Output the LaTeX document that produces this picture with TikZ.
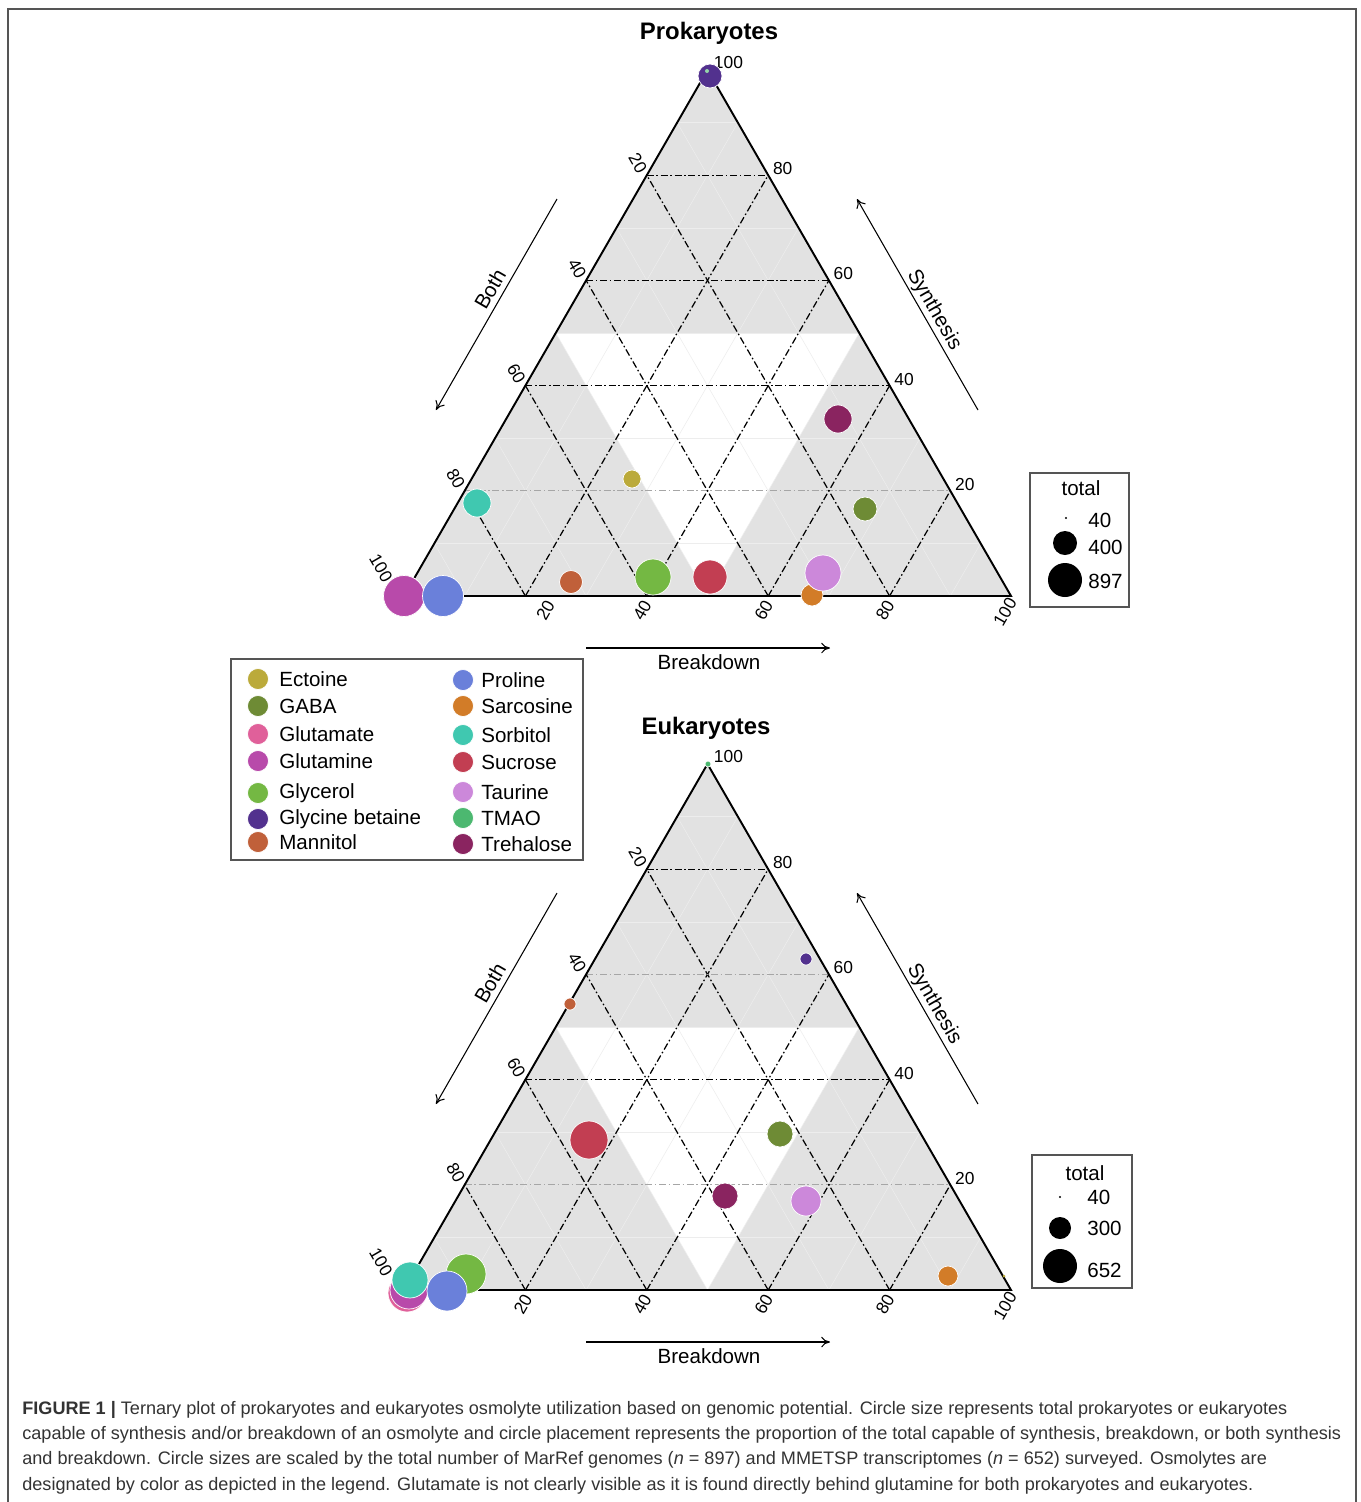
\documentclass[tikz,border=0pt]{standalone}
\usepackage{fontspec}
\setmainfont{Liberation Sans}
\usetikzlibrary{arrows.meta,calc}

\definecolor{ectoine}{HTML}{BBAA3A}
\definecolor{gaba}{HTML}{6E8B35}
\definecolor{glutamate}{HTML}{E0609A}
\definecolor{glutamine}{HTML}{B84AAA}
\definecolor{glycerol}{HTML}{74B843}
\definecolor{glybet}{HTML}{52318E}
\definecolor{mannitol}{HTML}{C0603A}
\definecolor{proline}{HTML}{6A80DA}
\definecolor{sarcosine}{HTML}{D27C28}
\definecolor{sorbitol}{HTML}{40C8B0}
\definecolor{sucrose}{HTML}{C23E52}
\definecolor{taurine}{HTML}{CC88DA}
\definecolor{tmao}{HTML}{4CB870}
\definecolor{trehalose}{HTML}{8A2460}
\definecolor{panel}{HTML}{E2E2E2}
\definecolor{boxgray}{HTML}{555555}

% one ternary panel: #1 prefix, #2 y offset, #3 colour of the 60 line, #4 shift of the "20" label
\newcommand{\ternframe}[4]{%
\begin{scope}[shift={(0,#2)}]
	\coordinate (T) at (707.5,70);
	\coordinate (L) at (404,596);
	\coordinate (R) at (1011,596);
	\fill[panel] (T) -- (L) -- (R) -- cycle;
	\fill[white] (barycentric cs:T=1,L=1) -- (barycentric cs:T=1,R=1) -- (barycentric cs:L=1,R=1) -- cycle;
	\foreach \k in {0.1,0.3,0.5,0.7,0.9} {
		\pgfmathsetmacro{\j}{1-\k}
		\draw[minorgrid] (barycentric cs:T=\k,L=\j) -- (barycentric cs:T=\k,R=\j);
		\draw[minorgrid] (barycentric cs:R=\k,L=\j) -- (barycentric cs:R=\k,T=\j);
		\draw[minorgrid] (barycentric cs:L=\k,R=\j) -- (barycentric cs:L=\k,T=\j);
	}
	\foreach \k/\c in {0.2/black!35,0.4/black,0.6/#3,0.8/black} {
		\pgfmathsetmacro{\j}{1-\k}
		\draw[majorgrid, \c] (barycentric cs:T=\k,L=\j) -- (barycentric cs:T=\k,R=\j);
		\draw[majorgrid] (barycentric cs:R=\k,L=\j) -- (barycentric cs:R=\k,T=\j);
		\draw[majorgrid] (barycentric cs:L=\k,R=\j) -- (barycentric cs:L=\k,T=\j);
	}
	\draw[edge] (T) -- (L) -- (R) -- cycle;
	% tick labels
	\foreach \k/\t in {0.2/20,0.4/40,0.6/60,0.8/80} {
		\pgfmathsetmacro{\j}{1-\k}
		\node[tick] (#1-s\t) at ($(barycentric cs:T=\k,R=\j)+(14.5,-6.5)$) {\t};
		\node[tick, rotate=-60] (#1-b\t) at ($(barycentric cs:L=\k,T=\j)+(-9,-12)$) {\t};
	}
	\foreach \k/\t in {0.4/40,0.6/60,0.8/80} {
		\pgfmathsetmacro{\j}{1-\k}
		\node[tick, rotate=60] (#1-k\t) at ($(barycentric cs:R=\k,L=\j)+(-4.5,14)$) {\t};
	}
	\node[tick, rotate=60] (#1-k20) at ($(barycentric cs:R=0.2,L=0.8)+(#4,14)$) {20};
	\node[tick] (#1-s100) at ($(T)+(21,-7)$) {100};
	\node[tick, rotate=-60] (#1-b100) at ($(L)+(-23,-28)$) {100};
	\node[tick, rotate=60] (#1-k100) at ($(R)+(-6,16)$) {100};
	% axis titles
	\draw[axarrow] (557,199) -- (436,410);
	\node[legtext, rotate=60] (#1-both) at (490,289) {Both};
	\draw[axarrow] (978,410) -- (857,199);
	\node[legtext, rotate=-60] (#1-syn) at (934,310) {Synthesis};
	\draw[axarrow] (586,648) -- (830,648);
	\node[legtext] (#1-brk) at (709,662) {Breakdown};
\end{scope}}

\begin{document}
\begin{tikzpicture}[x=0.02cm, y=-0.02cm,
	minorgrid/.style={black!7, line width=0.3pt},
	majorgrid/.style={black, line width=0.7pt, dash pattern=on 4pt off 1.5pt on 0.9pt off 1.5pt},
	edge/.style={black, line width=1.1pt, line join=miter},
	axarrow/.style={black, line width=0.6pt, -{To[length=5pt,width=6pt]}},
	tick/.style={font=\fontsize{9.9}{12}\selectfont, inner sep=0pt},
	legtext/.style={font=\fontsize{11.7}{14}\selectfont, inner sep=0pt},
	ttl/.style={font=\fontsize{13.6}{16}\selectfont\bfseries, inner sep=0pt},
	osm/.style={fill=#1, draw=white, line width=0.4pt},
	boxline/.style={draw=boxgray, line width=0.8pt}]
	\useasboundingbox (0,0) rectangle (1360,1502);
	\draw[boxgray, line width=0.9pt] (8,1502) -- (8,9) -- (1356,9) -- (1356,1502);

	% Prokaryotes
	\node[ttl] (protitle) at (709,33) {Prokaryotes};
	\ternframe{pro}{0}{black}{20}
	\path[osm=glybet] (710,76) circle (12);
	\fill[tmao!60!white] (707,71) circle (2);
	\path[osm=trehalose] (838,419) circle (14);
	\path[osm=ectoine] (632,479) circle (9);
	\path[osm=sorbitol] (477,503) circle (14);
	\path[osm=gaba] (865,509) circle (12);
	\path[osm=glutamate] (404,596) circle (20.5);
	\path[osm=glutamine] (404,596) circle (20.5);
	\path[osm=proline] (443,596) circle (20.5);
	\path[osm=mannitol] (571,582) circle (11.5);
	\path[osm=glycerol] (653,577) circle (18);
	\path[osm=sucrose] (710,577) circle (17);
	\path[osm=sarcosine] (812,595) circle (11);
	\path[osm=taurine] (823,573) circle (18);

	\draw[boxline] (1030,473) rectangle (1129,607);
	\node[legtext] (prototal) at (1081,488) {total};
	\fill (1066,518) circle (1.2);
	\node[legtext, anchor=west] (pro40) at (1088,520) {40};
	\fill (1065,543) circle (12);
	\node[legtext, anchor=west] (pro400) at (1088,547) {400};
	\fill (1065,580) circle (17);
	\node[legtext, anchor=west] (pro897) at (1088,581) {897};

	% legend
	\draw[boxline] (231,659) rectangle (583,860);
	\foreach \n/\c/\y in {Ectoine/ectoine/679,GABA/gaba/706,Glutamate/glutamate/734,Glutamine/glutamine/761,Glycerol/glycerol/793,Glycine betaine/glybet/819,Mannitol/mannitol/842} {
		\path[osm=\c] (258,\y) circle (10.5);
		\node[legtext, anchor=west] (leg-\c) at (279,\y) {\n};
	}
	\foreach \n/\c/\y in {Proline/proline/680,Sarcosine/sarcosine/706,Sorbitol/sorbitol/735,Sucrose/sucrose/762,Taurine/taurine/792,TMAO/tmao/818,Trehalose/trehalose/844} {
		\path[osm=\c] (463,\y) circle (10.5);
		\node[legtext, anchor=west] (leg-\c) at (481,\y) {\n};
	}

	% Eukaryotes
	\node[ttl] (euktitle) at (706,728) {Eukaryotes};
	\ternframe{euk}{694}{black!35}{-2.5}
	\path[osm=tmao] (708,764) circle (3);
	\path[osm=glybet] (806,959) circle (6);
	\path[osm=mannitol] (570,1004) circle (6);
	\path[osm=sucrose] (589,1140) circle (19);
	\path[osm=gaba] (780,1134) circle (13);
	\path[osm=trehalose] (725,1196) circle (13);
	\path[osm=taurine] (806,1201) circle (15);
	\path[osm=sarcosine] (948,1276) circle (10);
	\fill[ectoine] (1004,1276) circle (1.5);
	\path[osm=glutamate] (407,1293) circle (19);
	\path[osm=glutamine] (409,1290) circle (19);
	\path[osm=glycerol] (466,1274) circle (20);
	\path[osm=sorbitol] (410,1280) circle (18);
	\path[osm=proline] (447,1291) circle (20);

	\draw[boxline] (1032,1155) rectangle (1132,1288);
	\node[legtext] (euktotal) at (1085,1173) {total};
	\fill (1060,1197) circle (1.2);
	\node[legtext, anchor=west] (euk40) at (1087,1197) {40};
	\fill (1060,1228) circle (11);
	\node[legtext, anchor=west] (euk300) at (1087,1228) {300};
	\fill (1060,1266) circle (17);
	\node[legtext, anchor=west] (euk652) at (1087,1270) {652};

	% caption
	\begin{scope}[every node/.style={anchor=base west, inner sep=0pt, text=black!80, font=\fontsize{10.3}{12}\selectfont}]
	\node (cap1) at (22,1414) {\textbf{FIGURE 1 |} Ternary plot of prokaryotes and eukaryotes osmolyte utilization based on genomic potential. Circle size represents total prokaryotes or eukaryotes};
	\node (cap2) at (22,1439) {capable of synthesis and/or breakdown of an osmolyte and circle placement represents the proportion of the total capable of synthesis, breakdown, or both synthesis};
	\node (cap3) at (22,1464) {and breakdown. Circle sizes are scaled by the total number of MarRef genomes (\textit{n} = 897) and MMETSP transcriptomes (\textit{n} = 652) surveyed. Osmolytes are};
	\node (cap4) at (22,1490) {designated by color as depicted in the legend. Glutamate is not clearly visible as it is found directly behind glutamine for both prokaryotes and eukaryotes.};
	\end{scope}
\end{tikzpicture}
\end{document}
